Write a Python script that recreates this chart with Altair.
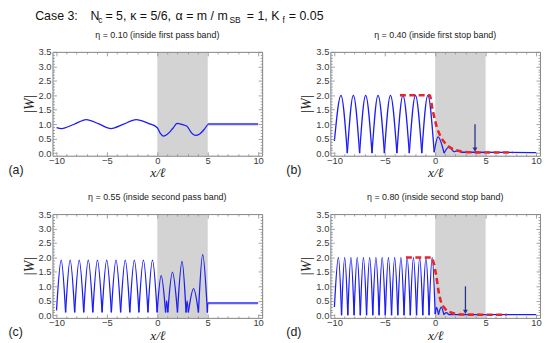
import altair as alt
import pandas as pd

# ---------------- data ----------------
x_domain = [-10.4, 10.4]
y_domain = [-0.09, 3.5]
x_major = [-10, -5, 0, 5, 10]
x_minor = [-9, -8, -7, -6, -4, -3, -2, -1, 1, 2, 3, 4, 6, 7, 8, 9]
y_major = [0.0, 0.5, 1.0, 1.5, 2.0, 2.5, 3.0, 3.5]
y_minor = [0.1, 0.2, 0.3, 0.4, 0.6, 0.7, 0.8, 0.9, 1.1, 1.2, 1.3, 1.4, 1.6, 1.7, 1.8, 1.9,
           2.1, 2.2, 2.3, 2.4, 2.6, 2.7, 2.8, 2.9, 3.1, 3.2, 3.3, 3.4]
band_x = [0, 5]

panel_labels = ["(a)", "(b)", "(c)", "(d)"]
panel_titles = ["η = 0.10 (inside first pass band)",
                "η = 0.40 (inside first stop band)",
                "η = 0.55 (inside second pass band)",
                "η = 0.80 (inside second stop band)"]
case_parts = ["Case 3:", "N", "c", "= 5,", "κ = 5/6,", "α = m / m", "SB", "= 1, K", "f", "= 0.05"]

# (a) eta = 0.10
a_x = [-10.0, -9.5, -8.3, -7.05, -5.8, -4.6, -3.35, -2.1, -0.9, 0.0, 0.3, 0.59, 0.85, 1.15,
       1.55, 1.96, 2.45, 2.94, 3.35, 3.76, 4.2, 4.6, 5.0]
a_y = [0.88, 0.85, 0.99, 1.16, 1.01, 0.85, 1.0, 1.16, 1.03, 0.88, 0.68, 0.59, 0.62, 0.70,
       0.86, 1.03, 0.99, 0.93, 0.72, 0.61, 0.66, 0.80, 0.99]
a_tail_x = [5.0, 10.0]
a_tail_y = [1.0, 1.0]

# (b) eta = 0.40
b_x = [-10.0, -9.35, -8.72, -8.12, -7.5, -6.9, -6.27, -5.67, -5.04, -4.44, -3.8, -3.2, -2.57,
       -1.96, -1.33, -0.73, -0.1, 0.28, 0.88, 1.33, 1.85, 2.2, 2.6, 10.0]
b_y = [0.42, 2.0, 0.0, 2.0, 0.0, 2.0, 0.0, 2.0, 0.0, 2.0, 0.0, 2.0, 0.0,
       2.0, 0.0, 2.0, 0.03, 0.56, 0.0, 0.2, 0.04, 0.08, 0.03, 0.02]
b_env_x = [-3.5, -0.55, -0.26, 0.16, 0.5, 1.0, 1.6, 2.3, 2.9, 4.0, 7.7]
b_env_y = [2.0, 2.0, 1.5, 0.9, 0.6, 0.34, 0.17, 0.08, 0.04, 0.025, 0.02]
b_arrow = {"x": 3.95, "top": 1.0, "head": 0.12}

# (c) eta = 0.55
c_x = [-10.0, -9.54, -9.1, -8.65, -8.2, -7.75, -7.3, -6.85, -6.4, -5.94, -5.48, -5.02, -4.56,
       -4.1, -3.64, -3.18, -2.73, -2.28, -1.83, -1.38, -0.93, -0.48, -0.02, 0.38, 0.82, 0.93,
       1.04, 1.5, 2.0, 2.45, 2.85, 2.95, 3.08, 3.6, 4.08, 4.5, 4.97, 5.0]
c_y = [0.17, 1.91, 0.1, 1.91, 0.1, 1.91, 0.1, 1.91, 0.1, 1.91, 0.1, 1.91, 0.1,
       1.91, 0.1, 1.91, 0.1, 1.91, 0.1, 1.91, 0.1, 1.91, 0.1, 1.37, 0.1, 0.5,
       0.1, 1.49, 0.1, 1.86, 0.1, 0.5, 0.1, 0.92, 0.1, 2.1, 0.1, 0.42]
c_tail_x = [5.0, 10.0]
c_tail_y = [0.42, 0.42]

# (d) eta = 0.80
d_x = [-10.0, -9.6, -9.29, -8.98, -8.67, -8.36, -8.05, -7.74, -7.43, -7.12, -6.81, -6.5,
       -6.19, -5.88, -5.57, -5.26, -4.95, -4.64, -4.33, -4.02, -3.71, -3.4, -3.09, -2.78,
       -2.47, -2.16, -1.85, -1.54, -1.23, -0.92, -0.61, -0.3, 0.0, 0.13, 0.33, 0.6, 0.86,
       1.1, 1.35, 10.0]
d_y = [0.29, 2.0, 0.0, 2.0, 0.0, 2.0, 0.0, 2.0, 0.0, 2.0, 0.0, 2.0,
       0.0, 2.0, 0.0, 2.0, 0.0, 2.0, 0.0, 2.0, 0.0, 2.0, 0.0, 2.0,
       0.0, 2.0, 0.0, 2.0, 0.0, 2.0, 0.0, 2.0, 0.04, 0.27, 0.02, 0.28, 0.02,
       0.09, 0.02, 0.02]
d_env_x = [-2.9, -0.39, 0.1, 0.32, 0.58, 0.97, 1.62, 2.27, 3.0, 7.1]
d_env_y = [2.0, 2.0, 1.37, 0.86, 0.46, 0.23, 0.09, 0.04, 0.025, 0.02]
d_arrow = {"x": 3.0, "top": 1.0, "head": 0.12}

# ---------------- style ----------------
W, H = 212, 105
BLUE = "#1c1cf5"
TAIL = "#5f5ff7"
RED = "#e8262a"
NAVY = "#26348c"
GRAY = "#d3d3d3"
FRAME = "#8a8a8a"
SANS = "Liberation Sans"
SERIF = "Liberation Serif"

xs = alt.Scale(domain=x_domain, nice=False, zero=False)
ys = alt.Scale(domain=y_domain, nice=False, zero=False)


def tick_axis(orient, values, size, labels=False, title=None, fmt=None, frame=False):
    kw = dict(orient=orient, values=values, grid=False, zindex=3)
    if frame:
        kw.update(domain=True, domainColor=FRAME, domainWidth=1, ticks=False, labels=False, offset=0)
    else:
        kw.update(domain=False, ticks=True, tickSize=size, tickColor=FRAME, tickWidth=0.8,
                  offset=-size, labels=labels)
    if labels:
        kw.update(labelFont=SANS, labelFontSize=9.5, labelColor="#3a3a3a", labelFlush=False,
                  labelPadding=0 if orient == "bottom" else 1.5)
        if fmt:
            kw["format"] = fmt
    kw["title"] = title
    if title:
        kw.update(titleFont=SERIF, titleFontStyle="italic", titleFontWeight="normal",
                  titleColor="#222222", titleFontSize=14 if orient == "left" else 13.5,
                  titlePadding=2 if orient == "left" else 1)
    return alt.Axis(**kw)


def segments(px, py, split=True):
    rows = []
    seg = 0
    n = len(px)
    for i in range(n):
        rows.append({"x": px[i], "y": py[i], "seg": seg, "i": i})
        if split and 0 < i < n - 1 and py[i] < py[i - 1] and py[i] <= py[i + 1]:
            seg += 1
            rows.append({"x": px[i], "y": py[i], "seg": seg, "i": i})
    return pd.DataFrame(rows)


def panel(idx, cx, cy, split, tail=None, env=None, arrow=None):
    band_df = pd.DataFrame({"x0": [band_x[0]], "x1": [band_x[1]],
                            "y0": [y_domain[0]], "y1": [y_domain[1]]})
    base = alt.Chart(band_df)

    def ax_layer(xaxis, yaxis, mark):
        return mark.encode(
            x=alt.X("x0:Q", scale=xs, axis=xaxis), x2="x1",
            y=alt.Y("y0:Q", scale=ys, axis=yaxis), y2="y1")

    layers = [
        ax_layer(tick_axis("bottom", x_major, 4, labels=True, title="x/ℓ"),
                 tick_axis("left", y_major, 4, labels=True, title="|W|", fmt=".1f"),
                 base.mark_rect(color=GRAY)),
        ax_layer(tick_axis("top", x_major, 4), tick_axis("right", y_major, 4),
                 base.mark_rect(opacity=0)),
        ax_layer(tick_axis("bottom", x_minor, 2), tick_axis("left", y_minor, 2),
                 base.mark_rect(opacity=0)),
        ax_layer(tick_axis("top", x_minor, 2), tick_axis("right", y_minor, 2),
                 base.mark_rect(opacity=0)),
        ax_layer(tick_axis("bottom", x_major, 0, frame=True), tick_axis("left", y_major, 0, frame=True),
                 base.mark_rect(opacity=0)),
        ax_layer(tick_axis("top", x_major, 0, frame=True), tick_axis("right", y_major, 0, frame=True),
                 base.mark_rect(opacity=0)),
    ]

    if tail is not None:
        tdf = pd.DataFrame({"x": tail[0], "y": tail[1]})
        layers.append(alt.Chart(tdf).mark_line(color=TAIL, strokeWidth=2.3).encode(
            x=alt.X("x:Q", scale=xs, axis=None), y=alt.Y("y:Q", scale=ys, axis=None)))

    cdf = segments(cx, cy, split)
    layers.append(alt.Chart(cdf).mark_line(color=BLUE, strokeWidth=1.3, interpolate="monotone").encode(
        x=alt.X("x:Q", scale=xs, axis=None), y=alt.Y("y:Q", scale=ys, axis=None),
        detail="seg:N", order="i:Q"))

    if env is not None:
        edf = pd.DataFrame({"x": env[0], "y": env[1]})
        layers.append(alt.Chart(edf).mark_line(color=RED, strokeWidth=2.6, strokeDash=[6, 3.5],
                                               interpolate="monotone").encode(
            x=alt.X("x:Q", scale=xs, axis=None), y=alt.Y("y:Q", scale=ys, axis=None)))

    if arrow is not None:
        adf = pd.DataFrame({"x": [arrow["x"]], "top": [arrow["top"]], "head": [arrow["head"]]})
        layers.append(alt.Chart(adf).mark_rule(color=NAVY, strokeWidth=1.3).encode(
            x=alt.X("x:Q", scale=xs, axis=None), y=alt.Y("top:Q", scale=ys, axis=None), y2="head"))
        layers.append(alt.Chart(adf).mark_point(shape="triangle-down", filled=True, size=24,
                                                color=NAVY, opacity=1).encode(
            x=alt.X("x:Q", scale=xs, axis=None), y=alt.Y("head:Q", scale=ys, axis=None)))

    ldf = pd.DataFrame({"t": [panel_labels[idx]]})
    layers.append(alt.Chart(ldf).mark_text(font=SANS, fontSize=12.5, align="left", baseline="middle",
                                           color="#222222").encode(
        text="t:N", x=alt.value(-44.5), y=alt.value(119)))

    return alt.layer(*layers).resolve_axis(x="independent", y="independent").properties(
        width=W, height=H,
        title=alt.TitleParams(panel_titles[idx], font=SANS, fontSize=9, fontWeight="normal",
                              color="#222222", anchor="middle", frame="group", offset=7))


# header line: "Case 3:  N_c = 5, kappa = 5/6, alpha = m / m_SB = 1, K_f = 0.05"
header_pos = [(-17.5, False), (38.5, False), (46.3, True), (53.5, False), (78.5, False),
              (124.5, False), (179.0, True), (196.5, False), (232.5, True), (239.0, False)]
header_layers = []
for part, (px, sub) in zip(case_parts, header_pos):
    header_layers.append(alt.Chart(pd.DataFrame({"t": [part]})).mark_text(
        font=SANS, fontSize=8.5 if sub else 12.5, align="left", baseline="alphabetic",
        color="#111111").encode(text="t:N", x=alt.value(px), y=alt.value(13 if sub else 10)))
header = alt.layer(*header_layers).properties(
    width=W, height=12, view=alt.ViewBackground(stroke="transparent", strokeWidth=0))

pa = panel(0, a_x, a_y, False, tail=(a_tail_x, a_tail_y))
pb = panel(1, b_x, b_y, True, env=(b_env_x, b_env_y), arrow=b_arrow)
pc = panel(2, c_x, c_y, True, tail=(c_tail_x, c_tail_y))
pd_ = panel(3, d_x, d_y, True, env=(d_env_x, d_env_y), arrow=d_arrow)

row1 = alt.hconcat(pa, pb, spacing=22)
row2 = alt.hconcat(pc, pd_, spacing=22)
rows = alt.vconcat(row1, row2, spacing=12)
chart = alt.vconcat(header, rows, spacing=5.5).properties(
    padding={"left": 0, "top": 0, "right": 0, "bottom": 0}
).configure_view(stroke="transparent", strokeWidth=0).configure(background="white")

chart.save("out.html", embed_options={"renderer": "svg", "actions": False})
